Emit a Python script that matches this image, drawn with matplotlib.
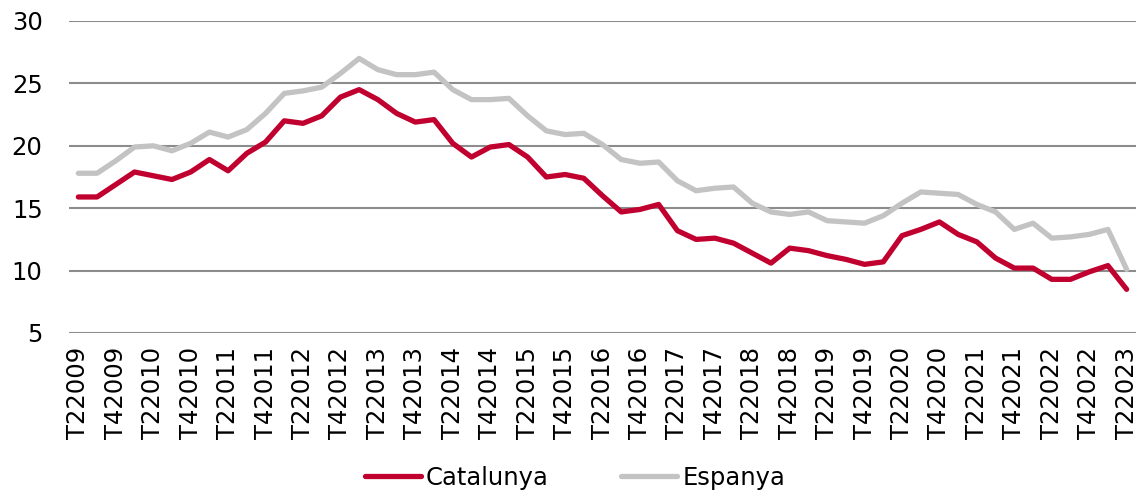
import matplotlib
matplotlib.use('Agg')
import matplotlib.pyplot as plt

# quarters T2 2009 .. T2 2023
quarters = []
for year in range(2009, 2024):
    for q in range(1, 5):
        if (year == 2009 and q < 2) or (year == 2023 and q > 2):
            continue
        quarters.append('T%d%d' % (q, year))

catalunya = [15.9, 15.9, 16.9, 17.9, 17.6, 17.3, 17.9, 18.9, 18.0, 19.4,
             20.3, 22.0, 21.8, 22.4, 23.9, 24.5, 23.7, 22.6, 21.9, 22.1,
             20.2, 19.1, 19.9, 20.1, 19.1, 17.5, 17.7, 17.4, 16.0, 14.7,
             14.9, 15.3, 13.2, 12.5, 12.6, 12.2, 11.4, 10.6, 11.8, 11.6,
             11.2, 10.9, 10.5, 10.7, 12.8, 13.3, 13.9, 12.9, 12.3, 11.0,
             10.2, 10.2, 9.3, 9.3, 9.9, 10.4, 8.5]
espanya = [17.8, 17.8, 18.8, 19.9, 20.0, 19.6, 20.2, 21.1, 20.7, 21.3,
           22.6, 24.2, 24.4, 24.7, 25.8, 27.0, 26.1, 25.7, 25.7, 25.9,
           24.5, 23.7, 23.7, 23.8, 22.4, 21.2, 20.9, 21.0, 20.1, 18.9,
           18.6, 18.7, 17.2, 16.4, 16.6, 16.7, 15.4, 14.7, 14.5, 14.7,
           14.0, 13.9, 13.8, 14.4, 15.4, 16.3, 16.2, 16.1, 15.3, 14.7,
           13.3, 13.8, 12.6, 12.7, 12.9, 13.3, 10.1]

plt.rcParams['font.family'] = ['DejaVu Sans']
fs = 17.5

fig = plt.figure(figsize=(11.4, 5), dpi=100)
ax = fig.add_axes([69 / 1140, 1 - 333 / 500, 1067 / 1140, 312 / 500])

x = list(range(len(quarters)))
ax.plot(x, catalunya, color='#c0002f', lw=3.8, label='Catalunya',
        solid_capstyle='round', zorder=3)
ax.plot(x, espanya, color='#c3c3c3', lw=3.8, label='Espanya',
        solid_capstyle='round', zorder=2)

ax.set_ylim(5, 30)
ax.set_yticks([5, 10, 15, 20, 25, 30])
ax.set_xlim(-0.5, len(quarters) - 0.5)
ax.set_xticks(x[::2])
ax.set_xticklabels(quarters[::2], rotation=90)
ax.grid(axis='y', color='#8c8c8c', lw=1.5)
ax.set_axisbelow(True)
for s in ax.spines.values():
    s.set_visible(False)
ax.tick_params(length=0, labelsize=fs)
ax.tick_params(axis='x', pad=10)
ax.tick_params(axis='y', pad=19)

ax.legend(loc='center', bbox_to_anchor=(575 / 1140, 1 - 478 / 500),
          bbox_transform=fig.transFigure, ncol=2, frameon=False,
          fontsize=fs, handlelength=2.3, handletextpad=0.2,
          columnspacing=3.0)

fig.savefig('out.png', dpi=100)
